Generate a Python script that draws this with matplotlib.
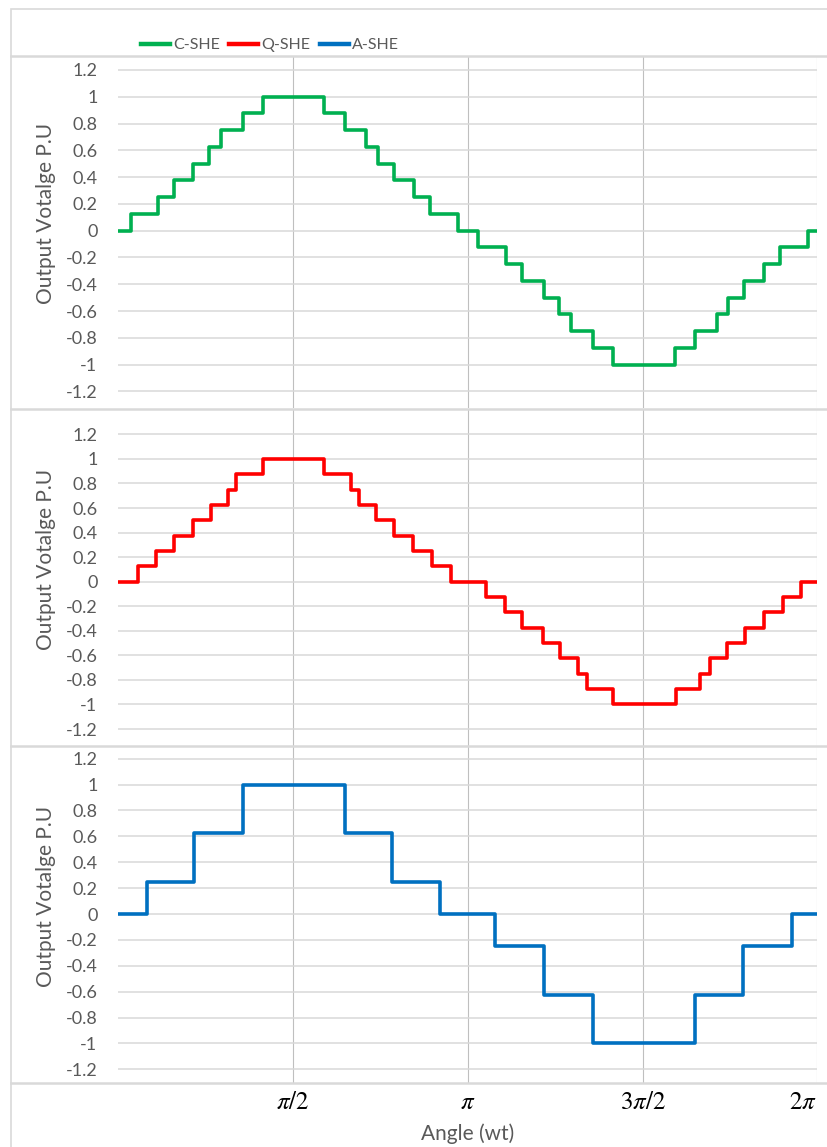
import matplotlib
matplotlib.use("Agg")
import matplotlib.pyplot as plt
from matplotlib.lines import Line2D
from matplotlib.patches import Rectangle
from matplotlib.ticker import FuncFormatter

plt.rcParams['font.family'] = ['Lato', 'DejaVu Sans']
plt.rcParams['mathtext.fontset'] = 'stix'

# switching angles (deg) and output levels (p.u.)
c_angles = [6.3, 20.5, 28.6, 38.7, 46.9, 53.0, 64.3, 74.5,
            105.9, 116.6, 127.6, 133.6, 142.0, 152.3, 160.7, 175.1,
            185.1, 199.9, 208.0, 219.0, 227.0, 232.9, 244.7, 254.9,
            286.5, 297.0, 308.4, 314.1, 322.5, 332.3, 341.0, 355.4]
c_levels = [0, 0.125, 0.25, 0.375, 0.5, 0.625, 0.75, 0.875, 1,
            0.875, 0.75, 0.625, 0.5, 0.375, 0.25, 0.125, 0,
            -0.125, -0.25, -0.375, -0.5, -0.625, -0.75, -0.875, -1,
            -0.875, -0.75, -0.625, -0.5, -0.375, -0.25, -0.125, 0]

q_angles = [10.2, 19.6, 28.8, 38.7, 47.6, 56.6, 60.7, 74.7,
            105.9, 119.6, 123.9, 132.8, 141.9, 151.8, 161.6, 171.1,
            189.3, 199.0, 208.0, 218.5, 227.3, 236.9, 241.2, 254.9,
            287.0, 299.8, 304.5, 313.7, 323.0, 332.3, 342.1, 351.7]
q_levels = c_levels

a_angles = [15.0, 39.2, 64.3, 116.9, 141.2, 165.7,
            194.2, 219.5, 244.5, 297.1, 321.9, 346.9]
a_levels = [0, 0.25, 0.625, 1, 0.625, 0.25, 0,
            -0.25, -0.625, -1, -0.625, -0.25, 0]

series = [("C-SHE", c_angles, c_levels, "#00B050"),
          ("Q-SHE", q_angles, q_levels, "#FF0000"),
          ("A-SHE", a_angles, a_levels, "#0070C0")]

x_ticks = [90, 180, 270, 360]
x_labels = [r"$\pi/2$", r"$\pi$", r"$3\pi/2$", r"$2\pi$"]
y_ticks = [-1.2, -1, -0.8, -0.6, -0.4, -0.2, 0, 0.2, 0.4, 0.6, 0.8, 1, 1.2]

W, H = 827, 1147
fig = plt.figure(figsize=(W / 100, H / 100), dpi=100)

# panel boxes in pixels: (top, bottom), ylim
panels = [((56, 408.3), (-1.326, 1.304)),
          ((409.3, 745.7), (-1.336, 1.404)),
          ((745.7, 1082.7), (-1.303, 1.300))]
x0, x1 = 118.3, 817.3

grey = "#595959"
axes = []
for (name, ang, lev, col), ((top, bot), ylim) in zip(series, panels):
    ax = fig.add_axes([x0 / W, 1 - bot / H, (x1 - x0) / W, (bot - top) / H])
    xs = [0] + ang + [360]
    ys = lev + [lev[-1]]
    ax.step(xs, ys, where="post", color=col, lw=2.6, label=name)
    ax.set_xlim(0, 360)
    ax.set_ylim(*ylim)
    ax.set_yticks(y_ticks)
    ax.yaxis.set_major_formatter(FuncFormatter(lambda v, p: "%g" % round(v, 1)))
    ax.set_xticks(x_ticks)
    ax.grid(axis="y", color="#d9d9d9", lw=1.1)
    ax.grid(axis="x", color="#bfbfbf", lw=0.8)
    ax.set_axisbelow(True)
    for s in ax.spines.values():
        s.set_visible(False)
    ax.tick_params(length=0, labelsize=13, labelcolor=grey, pad=15)
    ax.set_ylabel("Output Votalge P.U", fontsize=15, color=grey)
    ax.yaxis.set_label_coords(-0.089, 0.553)
    ax.set_facecolor("none")
    axes.append(ax)

for ax in axes[:2]:
    ax.set_xticklabels([])

ax3 = axes[2]
ax3.set_xticklabels(x_labels)
ax3.tick_params(axis="x", labelsize=18, labelcolor="black", pad=5)
ax3.get_xticklabels()[-1].set_ha("right")
ax3.set_xlabel("Angle (wt)", fontsize=15, color=grey, labelpad=8)

# outer border and panel separators
fig.add_artist(Rectangle((11 / W, 1 - 1160 / H), 1.0, (1160 - 9) / H,
                         transform=fig.transFigure, fill=False,
                         edgecolor="#d9d9d9", lw=1.2, clip_on=False))
for yp in [56, 409.3, 745.7, 1082.7]:
    fig.add_artist(Line2D([11 / W, 1], [1 - yp / H, 1 - yp / H],
                          transform=fig.transFigure, color="#d9d9d9", lw=1.8))

handles = [Line2D([], [], color=c, lw=3.2) for _, _, _, c in series]
fig.legend(handles, [s[0] for s in series], loc="center",
           bbox_to_anchor=(270 / W, 1 - 45 / H), ncol=3, frameon=False,
           fontsize=11.5, handlelength=1.8, handletextpad=0.2,
           columnspacing=0.6, labelcolor=grey)

fig.savefig("out.png", dpi=100, facecolor="white")
